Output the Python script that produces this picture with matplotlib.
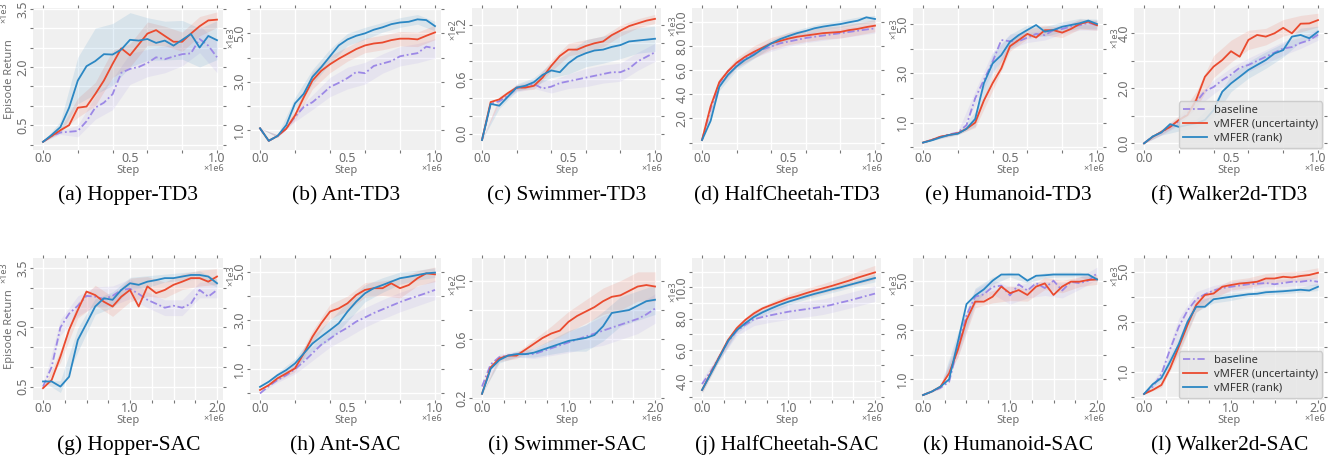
import numpy as np
import matplotlib
matplotlib.use('Agg')
import matplotlib.pyplot as plt

plt.rcParams['font.family'] = ['Noto Sans', 'DejaVu Sans']

# ----- data (values in the units shown on each y axis) -----
# 21 readings per curve (0 .. end of x range), 11 band half-widths (every 2nd reading)
hopper_td3_base = [0.07, 0.22, 0.31, 0.33, 0.35, 0.60, 0.95, 1.08, 1.30, 1.85, 1.95, 2.00, 2.10, 2.25, 2.20, 2.27, 2.33, 2.35, 2.72, 2.55, 2.25]
hopper_td3_unc = [0.07, 0.22, 0.37, 0.50, 0.95, 0.98, 1.30, 1.65, 2.08, 2.48, 2.30, 2.58, 2.86, 2.95, 2.80, 2.65, 2.65, 2.86, 3.05, 3.20, 3.22]
hopper_td3_rank = [0.07, 0.25, 0.45, 0.95, 1.65, 2.02, 2.15, 2.33, 2.32, 2.45, 2.70, 2.68, 2.72, 2.62, 2.68, 2.55, 2.70, 2.85, 2.50, 2.80, 2.69]
hopper_td3_base_sd = [0.0, 0.05, 0.15, 0.30, 0.40, 0.40, 0.35, 0.35, 0.30, 0.35, 0.40]
hopper_td3_unc_sd = [0.0, 0.05, 0.25, 0.30, 0.35, 0.30, 0.30, 0.25, 0.25, 0.25, 0.20]
hopper_td3_rank_sd = [0.0, 0.15, 0.60, 0.85, 0.80, 0.70, 0.55, 0.50, 0.50, 0.50, 0.50]

ant_td3_base = [1.07, 0.55, 0.75, 1.05, 1.55, 1.95, 2.15, 2.45, 2.78, 2.95, 3.15, 3.40, 3.35, 3.65, 3.75, 3.85, 4.05, 4.12, 4.18, 4.45, 4.38]
ant_td3_unc = [1.07, 0.55, 0.75, 1.05, 1.60, 2.35, 3.05, 3.45, 3.72, 3.95, 4.15, 4.35, 4.50, 4.58, 4.62, 4.72, 4.78, 4.78, 4.75, 4.90, 5.04]
ant_td3_rank = [1.07, 0.55, 0.75, 1.20, 2.10, 2.50, 3.20, 3.60, 4.05, 4.50, 4.75, 4.90, 5.00, 5.15, 5.25, 5.38, 5.45, 5.48, 5.58, 5.55, 5.30]
ant_td3_base_sd = [0.0, 0.05, 0.20, 0.30, 0.40, 0.45, 0.45, 0.40, 0.40, 0.40, 0.40]
ant_td3_unc_sd = [0.0, 0.05, 0.20, 0.35, 0.35, 0.30, 0.30, 0.30, 0.30, 0.30, 0.30]
ant_td3_rank_sd = [0.0, 0.05, 0.25, 0.30, 0.30, 0.25, 0.25, 0.20, 0.20, 0.20, 0.20]

swim_td3_base = [-0.07, 0.33, 0.36, 0.42, 0.50, 0.52, 0.55, 0.50, 0.52, 0.56, 0.58, 0.60, 0.62, 0.64, 0.66, 0.68, 0.68, 0.72, 0.80, 0.85, 0.90]
swim_td3_unc = [-0.07, 0.35, 0.38, 0.45, 0.51, 0.51, 0.53, 0.62, 0.75, 0.86, 0.93, 0.93, 0.97, 1.00, 1.02, 1.09, 1.14, 1.19, 1.22, 1.25, 1.27]
swim_td3_rank = [-0.07, 0.33, 0.31, 0.41, 0.51, 0.53, 0.57, 0.65, 0.70, 0.68, 0.78, 0.85, 0.89, 0.92, 0.93, 0.96, 0.98, 1.02, 1.03, 1.04, 1.05]
swim_td3_base_sd = [0.0, 0.03, 0.04, 0.05, 0.07, 0.08, 0.10, 0.10, 0.10, 0.10, 0.10]
swim_td3_unc_sd = [0.0, 0.03, 0.03, 0.04, 0.06, 0.07, 0.07, 0.06, 0.06, 0.05, 0.05]
swim_td3_rank_sd = [0.0, 0.03, 0.04, 0.05, 0.08, 0.12, 0.15, 0.15, 0.15, 0.14, 0.14]

hc_td3_base = [0.2, 2.8, 4.9, 5.9, 6.5, 7.0, 7.4, 7.7, 7.95, 8.2, 8.35, 8.5, 8.65, 8.75, 8.85, 8.95, 9.05, 9.15, 9.25, 9.35, 9.45]
hc_td3_unc = [0.2, 3.0, 5.0, 5.9, 6.6, 7.1, 7.5, 7.85, 8.2, 8.4, 8.6, 8.75, 8.85, 8.95, 9.05, 9.1, 9.15, 9.3, 9.4, 9.55, 9.67]
hc_td3_rank = [0.2, 1.8, 4.6, 5.6, 6.3, 6.85, 7.25, 7.75, 8.2, 8.55, 8.81, 9.05, 9.23, 9.45, 9.59, 9.7, 9.8, 9.95, 10.08, 10.36, 10.22]
hc_td3_base_sd = [0.0, 0.3, 0.3, 0.4, 0.4, 0.4, 0.4, 0.4, 0.4, 0.4, 0.4]
hc_td3_unc_sd = [0.0, 0.3, 0.4, 0.5, 0.5, 0.5, 0.5, 0.5, 0.5, 0.5, 0.5]
hc_td3_rank_sd = [0.0, 0.3, 0.3, 0.3, 0.3, 0.3, 0.3, 0.3, 0.3, 0.3, 0.3]

hum_td3_base = [0.19, 0.30, 0.42, 0.52, 0.60, 0.90, 1.99, 2.73, 3.47, 4.35, 4.30, 4.30, 4.45, 4.60, 4.55, 4.75, 4.80, 4.90, 4.95, 5.05, 4.95]
hum_td3_unc = [0.19, 0.30, 0.43, 0.50, 0.57, 0.75, 1.00, 1.90, 2.60, 3.20, 4.10, 4.35, 4.60, 4.45, 4.75, 4.75, 4.65, 4.80, 5.00, 5.10, 4.95]
hum_td3_rank = [0.19, 0.28, 0.40, 0.50, 0.55, 0.75, 1.15, 2.60, 3.40, 3.74, 4.28, 4.55, 4.76, 4.96, 4.69, 4.76, 4.89, 4.96, 5.03, 5.14, 5.00]
hum_td3_base_sd = [0.0, 0.05, 0.05, 0.3, 0.4, 0.3, 0.2, 0.2, 0.2, 0.2, 0.2]
hum_td3_unc_sd = [0.0, 0.05, 0.05, 0.2, 0.3, 0.2, 0.2, 0.2, 0.2, 0.2, 0.2]
hum_td3_rank_sd = [0.0, 0.05, 0.05, 0.3, 0.4, 0.3, 0.2, 0.2, 0.2, 0.2, 0.2]

walk_td3_base = [0.0, 0.25, 0.40, 0.60, 0.80, 1.10, 1.50, 1.90, 2.05, 2.30, 2.50, 2.75, 2.85, 3.00, 3.15, 3.30, 3.45, 3.50, 3.65, 3.75, 3.95]
walk_td3_unc = [0.0, 0.24, 0.42, 0.60, 0.85, 1.03, 1.58, 2.42, 2.79, 3.03, 3.35, 3.15, 3.76, 3.94, 3.88, 4.00, 4.20, 4.00, 4.35, 4.36, 4.48]
walk_td3_rank = [0.0, 0.25, 0.40, 0.70, 0.60, 0.67, 0.73, 0.85, 1.21, 1.88, 2.18, 2.42, 2.67, 2.85, 3.03, 3.27, 3.39, 3.88, 3.94, 3.82, 4.06]
walk_td3_base_sd = [0.0, 0.1, 0.15, 0.2, 0.25, 0.25, 0.25, 0.25, 0.25, 0.2, 0.2]
walk_td3_unc_sd = [0.0, 0.1, 0.15, 0.3, 0.4, 0.4, 0.35, 0.3, 0.3, 0.3, 0.25]
walk_td3_rank_sd = [0.0, 0.1, 0.15, 0.15, 0.25, 0.3, 0.3, 0.3, 0.25, 0.25, 0.2]

hopper_sac_base = [0.50, 1.00, 2.00, 2.35, 2.55, 2.80, 2.78, 2.72, 2.80, 2.95, 2.98, 2.85, 2.70, 2.60, 2.50, 2.55, 2.50, 2.60, 2.95, 2.78, 2.95]
hopper_sac_unc = [0.46, 0.67, 1.26, 1.94, 2.44, 2.91, 2.82, 2.65, 2.53, 2.78, 2.95, 2.53, 3.04, 2.87, 2.95, 3.08, 3.16, 3.25, 3.25, 3.16, 3.29]
hopper_sac_rank = [0.63, 0.63, 0.50, 0.75, 1.68, 2.10, 2.53, 2.74, 2.70, 2.95, 3.12, 3.08, 3.16, 3.20, 3.25, 3.25, 3.29, 3.33, 3.33, 3.29, 3.12]
hopper_sac_base_sd = [0.0, 0.2, 0.25, 0.25, 0.25, 0.25, 0.2, 0.2, 0.2, 0.2, 0.2]
hopper_sac_unc_sd = [0.0, 0.15, 0.2, 0.25, 0.25, 0.3, 0.25, 0.2, 0.2, 0.2, 0.2]
hopper_sac_rank_sd = [0.0, 0.15, 0.3, 0.2, 0.2, 0.15, 0.15, 0.1, 0.1, 0.1, 0.1]

ant_sac_base = [0.0, 0.30, 0.55, 0.75, 1.00, 1.30, 1.65, 2.00, 2.25, 2.50, 2.70, 2.95, 3.12, 3.30, 3.45, 3.60, 3.75, 3.88, 4.00, 4.12, 4.25]
ant_sac_unc = [0.14, 0.34, 0.62, 0.82, 1.03, 1.64, 2.33, 2.88, 3.36, 3.49, 3.70, 4.04, 4.25, 4.32, 4.32, 4.52, 4.32, 4.45, 4.73, 4.93, 4.89]
ant_sac_rank = [0.27, 0.48, 0.75, 0.96, 1.23, 1.64, 2.05, 2.33, 2.60, 2.88, 3.36, 3.77, 4.11, 4.32, 4.45, 4.59, 4.73, 4.79, 4.86, 4.93, 4.96]
ant_sac_base_sd = [0.0, 0.1, 0.2, 0.3, 0.35, 0.4, 0.4, 0.4, 0.4, 0.4, 0.4]
ant_sac_unc_sd = [0.0, 0.1, 0.15, 0.25, 0.3, 0.3, 0.3, 0.3, 0.4, 0.3, 0.3]
ant_sac_rank_sd = [0.0, 0.1, 0.2, 0.3, 0.4, 0.4, 0.35, 0.3, 0.25, 0.2, 0.2]

swim_sac_base = [0.28, 0.43, 0.48, 0.49, 0.50, 0.50, 0.50, 0.52, 0.54, 0.56, 0.58, 0.60, 0.62, 0.64, 0.66, 0.68, 0.70, 0.72, 0.74, 0.77, 0.81]
swim_sac_unc = [0.23, 0.41, 0.47, 0.49, 0.49, 0.53, 0.57, 0.61, 0.64, 0.66, 0.72, 0.76, 0.79, 0.82, 0.86, 0.89, 0.90, 0.93, 0.96, 0.97, 0.96]
swim_sac_rank = [0.23, 0.40, 0.46, 0.49, 0.50, 0.50, 0.51, 0.53, 0.55, 0.57, 0.59, 0.60, 0.61, 0.63, 0.69, 0.78, 0.79, 0.80, 0.83, 0.86, 0.87]
swim_sac_base_sd = [0.02, 0.02, 0.02, 0.03, 0.05, 0.07, 0.08, 0.10, 0.10, 0.10, 0.10]
swim_sac_unc_sd = [0.0, 0.02, 0.02, 0.03, 0.05, 0.07, 0.08, 0.09, 0.10, 0.10, 0.10]
swim_sac_rank_sd = [0.0, 0.02, 0.02, 0.03, 0.05, 0.07, 0.09, 0.10, 0.10, 0.10, 0.10]

hc_sac_base = [3.80, 4.60, 5.55, 6.50, 7.20, 7.60, 7.95, 8.10, 8.22, 8.33, 8.44, 8.52, 8.60, 8.68, 8.76, 8.88, 9.02, 9.15, 9.30, 9.45, 9.60]
hc_sac_unc = [3.42, 4.49, 5.56, 6.62, 7.37, 7.91, 8.33, 8.65, 8.87, 9.08, 9.29, 9.44, 9.62, 9.79, 9.94, 10.09, 10.26, 10.43, 10.62, 10.79, 10.96]
hc_sac_rank = [3.42, 4.45, 5.50, 6.55, 7.25, 7.70, 8.10, 8.40, 8.65, 8.88, 9.08, 9.25, 9.42, 9.58, 9.72, 9.87, 10.00, 10.15, 10.30, 10.45, 10.60]
hc_sac_base_sd = [0.3, 0.25, 0.3, 0.4, 0.45, 0.5, 0.5, 0.5, 0.5, 0.5, 0.5]
hc_sac_unc_sd = [0.2, 0.2, 0.2, 0.2, 0.2, 0.25, 0.3, 0.3, 0.35, 0.4, 0.45]
hc_sac_rank_sd = [0.2, 0.2, 0.2, 0.2, 0.2, 0.2, 0.2, 0.2, 0.2, 0.2, 0.25]

hum_sac_base = [0.36, 0.50, 0.65, 0.90, 2.30, 3.60, 4.35, 4.45, 4.75, 4.80, 4.40, 4.85, 4.60, 4.90, 4.70, 5.00, 4.60, 4.95, 4.90, 5.00, 5.30]
hum_sac_unc = [0.36, 0.50, 0.70, 1.24, 2.19, 3.41, 4.15, 4.15, 4.35, 4.76, 4.49, 4.62, 4.42, 4.76, 4.89, 4.42, 4.76, 4.96, 4.96, 5.03, 5.05]
hum_sac_rank = [0.36, 0.50, 0.70, 1.00, 2.50, 4.05, 4.40, 4.65, 5.00, 5.25, 5.25, 5.25, 5.00, 5.20, 5.22, 5.25, 5.25, 5.25, 5.25, 5.25, 5.05]
hum_sac_base_sd = [0.0, 0.05, 0.4, 0.3, 0.3, 0.35, 0.3, 0.3, 0.3, 0.25, 0.25]
hum_sac_unc_sd = [0.0, 0.05, 0.3, 0.25, 0.25, 0.3, 0.25, 0.25, 0.25, 0.2, 0.2]
hum_sac_rank_sd = [0.0, 0.05, 0.4, 0.3, 0.15, 0.1, 0.1, 0.1, 0.1, 0.1, 0.1]

walk_sac_base = [0.11, 0.40, 0.90, 1.90, 2.80, 3.45, 3.90, 4.10, 4.25, 4.35, 4.40, 4.45, 4.50, 4.52, 4.55, 4.50, 4.55, 4.60, 4.60, 4.65, 4.60]
walk_sac_unc = [0.11, 0.27, 0.47, 1.13, 2.00, 2.87, 3.67, 4.07, 4.13, 4.40, 4.47, 4.53, 4.56, 4.60, 4.73, 4.73, 4.80, 4.77, 4.83, 4.87, 4.96]
walk_sac_rank = [0.11, 0.50, 0.75, 1.40, 2.10, 3.00, 3.60, 3.60, 3.90, 3.95, 4.00, 4.05, 4.10, 4.12, 4.18, 4.20, 4.22, 4.25, 4.28, 4.25, 4.40]
walk_sac_base_sd = [0.0, 0.2, 0.35, 0.3, 0.2, 0.2, 0.2, 0.15, 0.15, 0.15, 0.15]
walk_sac_unc_sd = [0.0, 0.1, 0.3, 0.3, 0.2, 0.2, 0.2, 0.2, 0.2, 0.2, 0.2]
walk_sac_rank_sd = [0.0, 0.15, 0.3, 0.2, 0.15, 0.15, 0.1, 0.1, 0.1, 0.1, 0.15]

titles = ['(a) Hopper-TD3', '(b) Ant-TD3', '(c) Swimmer-TD3', '(d) HalfCheetah-TD3',
          '(e) Humanoid-TD3', '(f) Walker2d-TD3', '(g) Hopper-SAC', '(h) Ant-SAC',
          '(i) Swimmer-SAC', '(j) HalfCheetah-SAC', '(k) Humanoid-SAC', '(l) Walker2d-SAC']
curves = [
    (hopper_td3_base, hopper_td3_unc, hopper_td3_rank, hopper_td3_base_sd, hopper_td3_unc_sd, hopper_td3_rank_sd),
    (ant_td3_base, ant_td3_unc, ant_td3_rank, ant_td3_base_sd, ant_td3_unc_sd, ant_td3_rank_sd),
    (swim_td3_base, swim_td3_unc, swim_td3_rank, swim_td3_base_sd, swim_td3_unc_sd, swim_td3_rank_sd),
    (hc_td3_base, hc_td3_unc, hc_td3_rank, hc_td3_base_sd, hc_td3_unc_sd, hc_td3_rank_sd),
    (hum_td3_base, hum_td3_unc, hum_td3_rank, hum_td3_base_sd, hum_td3_unc_sd, hum_td3_rank_sd),
    (walk_td3_base, walk_td3_unc, walk_td3_rank, walk_td3_base_sd, walk_td3_unc_sd, walk_td3_rank_sd),
    (hopper_sac_base, hopper_sac_unc, hopper_sac_rank, hopper_sac_base_sd, hopper_sac_unc_sd, hopper_sac_rank_sd),
    (ant_sac_base, ant_sac_unc, ant_sac_rank, ant_sac_base_sd, ant_sac_unc_sd, ant_sac_rank_sd),
    (swim_sac_base, swim_sac_unc, swim_sac_rank, swim_sac_base_sd, swim_sac_unc_sd, swim_sac_rank_sd),
    (hc_sac_base, hc_sac_unc, hc_sac_rank, hc_sac_base_sd, hc_sac_unc_sd, hc_sac_rank_sd),
    (hum_sac_base, hum_sac_unc, hum_sac_rank, hum_sac_base_sd, hum_sac_unc_sd, hum_sac_rank_sd),
    (walk_sac_base, walk_sac_unc, walk_sac_rank, walk_sac_base_sd, walk_sac_unc_sd, walk_sac_rank_sd),
]
x_end = [1.0, 1.0, 1.0, 1.0, 1.0, 1.0, 2.0, 1.0, 2.0, 2.0, 2.0, 2.0]
y_mult = ['×1e3', '×1e3', '×1e2', '×1e3', '×1e3', '×1e3', '×1e3', '×1e3', '×1e2', '×1e3', '×1e3', '×1e3']
y_lims = [(-0.14, 3.52), (0.17, 6.05), (-0.18, 1.39), (-0.62, 11.13), (-0.11, 5.65), (-0.24, 4.92),
          (0.16, 3.76), (-0.27, 5.56), (0.188, 1.154), (2.78, 11.88), (0.16, 5.92), (-0.13, 5.55)]
y_step = [0.5, 1.0, 0.2, 2.0, 1.0, 1.0, 0.5, 1.0, 0.2, 1.0, 1.0, 1.0]
y_labels = [[0.5, 2.0, 3.5], [1.0, 3.0, 5.0], [0.0, 0.6, 1.2], [2.0, 4.0, 6.0, 8.0, 10.0],
            [1.0, 3.0, 5.0], [0.0, 2.0, 4.0], [0.5, 2.0, 3.5], [1.0, 3.0, 5.0],
            [0.2, 0.6, 1.0], [4.0, 6.0, 8.0, 10.0], [1.0, 3.0, 5.0], [1.0, 3.0, 5.0]]
legend_names = ['baseline', 'vMFER (uncertainty)', 'vMFER (rank)']

c_base = '#9c88e6'
c_unc = '#ea4a2e'
c_rank = '#2b87c3'
grey = '#6e6e6e'

# pixel anchors of x=0 and x=end for each column
col_x0 = [43, 260, 482, 702, 923, 1144]
col_x1 = [217, 435, 655, 875, 1097, 1318]

W, H = 1338, 459
fig = plt.figure(figsize=(W / 100, H / 100), dpi=100)

for i in range(12):
    r, c = divmod(i, 6)
    span = col_x1[c] - col_x0[c]
    left = col_x0[c] - 0.055 * span
    top = 8 if r == 0 else 258
    ax = fig.add_axes([left / W, 1 - (top + 142) / H, span * 1.09 / W, 142 / H])
    ax.set_facecolor('#f0f0f0')
    for s in ax.spines.values():
        s.set_visible(False)

    xe = x_end[i]
    xs = np.linspace(0, xe, 21)
    xc = xs[::2]
    base, unc, rank, base_sd, unc_sd, rank_sd = curves[i]
    for y, sd, col in [(base, base_sd, c_base), (unc, unc_sd, c_unc), (rank, rank_sd, c_rank)]:
        yc = np.array(y)[::2]
        sd = np.array(sd)
        ax.fill_between(xc, yc - sd, yc + sd, color=col, alpha=0.12, lw=0)
    ax.plot(xs, base, color=c_base, lw=1.3, dashes=(4, 1.5, 1, 1.5), label=legend_names[0])
    ax.plot(xs, unc, color=c_unc, lw=1.3, label=legend_names[1])
    ax.plot(xs, rank, color=c_rank, lw=1.3, label=legend_names[2])

    ax.set_xlim(-0.055 * xe, 1.035 * xe)
    ax.set_ylim(*y_lims[i])

    # grid / tick marks
    xstep = 0.2 if xe == 1.0 else 0.25
    ax.set_xticks(np.arange(0, xe + 1e-9, xstep), minor=True)
    lo, hi = y_lims[i]
    st = y_step[i]
    ax.set_yticks(np.arange(np.ceil(lo / st) * st, hi + 1e-9, st), minor=True)
    ax.xaxis.remove_overlapping_locs = False
    ax.yaxis.remove_overlapping_locs = False
    ax.grid(which='minor', color='white', lw=1.0)
    ax.grid(which='major', visible=False)
    ax.set_axisbelow(True)
    ax.tick_params(which='minor', length=2.5, width=0.8, color='#777777', direction='out',
                   top=True, right=True)

    # labels
    xl = [0.0, xe / 2, xe]
    ax.set_xticks(xl)
    ax.set_xticklabels(['%.1f' % v for v in xl])
    ax.set_yticks(y_labels[i])
    ax.set_yticklabels(['%.1f' % v for v in y_labels[i]], rotation=90, va='center')
    ax.tick_params(which='major', length=0, labelsize=9, labelcolor=grey)
    ax.tick_params(axis='x', which='major', pad=1.2)
    ax.tick_params(axis='y', which='major', pad=3)
    ax.set_xlabel('Step', fontsize=8, color=grey, labelpad=0)
    if c == 0:
        ax.set_ylabel('Episode Return', fontsize=8, color=grey, labelpad=1)
        off_x = -21
    else:
        off_x = -14
    ax.annotate(y_mult[i], xy=(0, y_labels[i][-1]), xycoords=ax.get_yaxis_transform(),
                xytext=(off_x, -3), textcoords='offset points', rotation=90,
                ha='center', va='center', fontsize=6.5, color=grey)
    ax.annotate('×1e6', xy=(1, 0), xycoords='axes fraction', xytext=(1, -13.5),
                textcoords='offset points', ha='right', va='center', fontsize=6.5, color=grey)

    if c == 5:
        leg = ax.legend(loc='lower right', fontsize=8, facecolor='#e6e6e6', edgecolor='#c8c8c8',
                        framealpha=0.85, handlelength=2.2, borderpad=0.35, labelspacing=0.25,
                        borderaxespad=0.2, handletextpad=0.6)
        for t in leg.get_texts():
            t.set_color('#333333')

    cx = (left + span * 1.09 / 2) / W
    base_y = 200 if r == 0 else 450
    fig.text(cx, 1 - base_y / H, titles[i], ha='center', va='baseline', fontsize=15.5,
             family='Liberation Serif', color='black')

fig.savefig('out.png', dpi=100)
